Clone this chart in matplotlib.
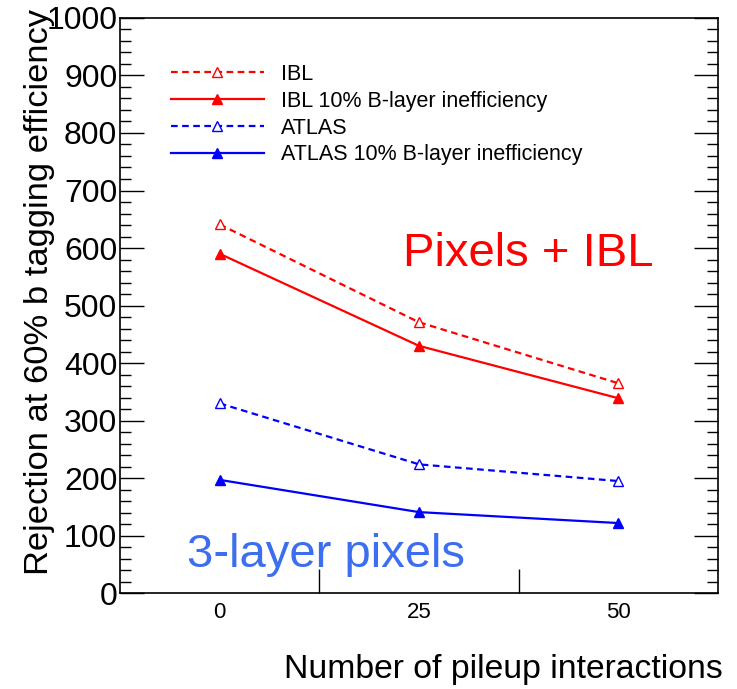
import matplotlib
matplotlib.use('Agg')
import matplotlib.pyplot as plt
from matplotlib.ticker import MultipleLocator, FixedLocator

plt.rcParams['font.family'] = ['Liberation Sans', 'DejaVu Sans']

# Data
pileup = [0, 25, 50]
bin_edges = [12.5, 37.5]
ibl = [641, 471, 365]
ibl_ineff = [590, 430, 339]
atlas = [330, 224, 195]
atlas_ineff = [197, 141, 122]

fig = plt.figure(figsize=(7.37, 6.89), dpi=100)
ax = fig.add_axes([0.163, 0.139, 0.811, 0.835])

ax.plot(pileup, ibl, color='red', ls=(0, (3, 2)), lw=1.6, marker='^',
        mfc='white', mec='red', ms=7.5, label='IBL')
ax.plot(pileup, ibl_ineff, color='red', ls='-', lw=1.6, marker='^',
        mfc='red', mec='red', ms=7.5, label='IBL 10% B-layer inefficiency')
ax.plot(pileup, atlas, color='blue', ls=(0, (3, 2)), lw=1.6, marker='^',
        mfc='white', mec='blue', ms=7.5, label='ATLAS')
ax.plot(pileup, atlas_ineff, color='blue', ls='-', lw=1.6, marker='^',
        mfc='blue', mec='blue', ms=7.5, label='ATLAS 10% B-layer inefficiency')

ax.set_xlim(-12.5, 62.5)
ax.set_ylim(0, 1000)

# x: labels at bin centres, ticks at bin edges
ax.xaxis.set_major_locator(FixedLocator(pileup))
ax.xaxis.set_minor_locator(FixedLocator(bin_edges))
ax.tick_params(axis='x', which='major', length=0, labelsize=16, pad=6)
ax.tick_params(axis='x', which='minor', length=17, direction='in', width=1)

ax.yaxis.set_major_locator(MultipleLocator(100))
ax.yaxis.set_minor_locator(MultipleLocator(20))
ax.tick_params(axis='y', which='both', direction='in', left=True, right=True, labelsize=23, pad=2)
ax.tick_params(axis='y', which='major', length=17, width=1)
ax.tick_params(axis='y', which='minor', length=8, width=1)
for s in ax.spines.values():
    s.set_linewidth(1.2)

ax.text(-4.1, 45, '3-layer pixels', color='#3c6ef0', fontsize=34)
ax.text(23, 568, 'Pixels + IBL', color='red', fontsize=34)

fig.text(723 / 737, 1 - 678 / 689, 'Number of pileup interactions', fontsize=24.3,
         ha='right', va='baseline')
fig.text(40 / 737, 1 - 9 / 689, 'Rejection at 60% b tagging efficiency', fontsize=24.8,
         rotation=90, ha='center', va='top')

ax.legend(loc='upper left', bbox_to_anchor=(0.085, 0.92), frameon=False,
          fontsize=15.5, handlelength=4.3, handletextpad=0.8, labelspacing=0.27,
          borderpad=0, borderaxespad=0)

fig.savefig('out.png', dpi=100)
